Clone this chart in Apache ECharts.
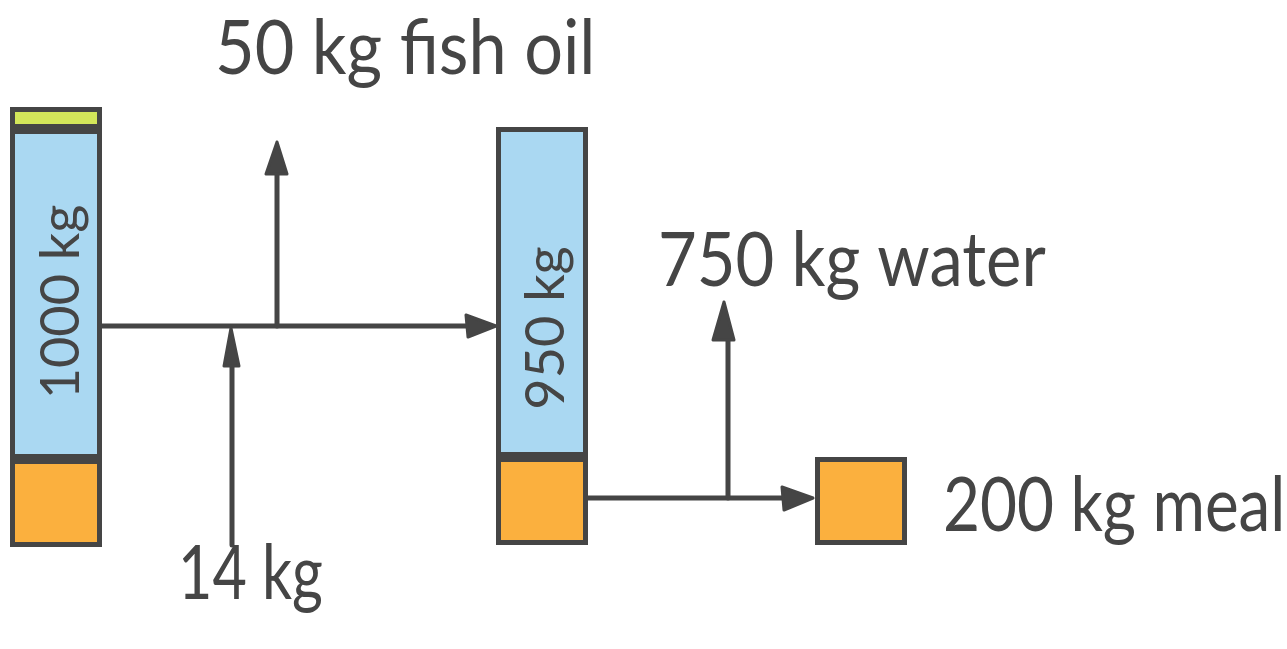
<!DOCTYPE html>
<html>
<head>
<meta charset="utf-8">
<title>fish meal mass balance</title>
<script src="https://cdn.jsdelivr.net/npm/echarts@6/dist/echarts.min.js"></script>
<style>
  html, body { margin: 0; padding: 0; background: #fff; }
  #chart { width: 1287px; height: 649px; }
</style>
</head>
<body>
<div id="chart"></div>
<script>
// stages of the process, each bar stacked solids / water / oil (kg)
const stages = ['raw fish', 'press cake', 'meal'];
const components = ['solids', 'water', 'fish oil'];
const rawFish = [200, 750, 50];
const pressCake = [200, 750, 0];
const meal = [200, 0, 0];
const totalLabels = ['1000 kg', '950 kg', ''];
const flowLabels = ['50 kg fish oil', '14 kg', '750 kg water', '200 kg meal'];

const stageData = [rawFish, pressCake, meal];
const colors = ['#fbb03e', '#aad8f2', '#d3e65a'];
const ink = '#454545';
const hand = 'Lato';

// one grid per bar, all on the same kg scale
const grids = [
  { left: 10, width: 92, top: 107, height: 440 },
  { left: 496, width: 92, top: 105, height: 440 },
  { left: 815, width: 92, top: 105, height: 440 }
];
// label nudges inside the bars (along text, across text)
const labelOffsets = [[-8, 6], [-36, 5]];

const xAxis = stages.map((s, i) => ({
  gridIndex: i, type: 'category', data: [s], show: false
}));
const yAxis = stages.map((s, i) => ({
  gridIndex: i, type: 'value', min: 0, max: 1000, show: false
}));

const series = [];
stageData.forEach((vals, i) => {
  vals.forEach((v, k) => {
    if (!v) return;
    const s = {
      name: components[k],
      type: 'bar',
      xAxisIndex: i,
      yAxisIndex: i,
      stack: 'stage' + i,
      barWidth: '100%',
      data: [v],
      itemStyle: { color: colors[k], borderColor: ink, borderWidth: 5 },
      silent: true
    };
    if (k === 1 && totalLabels[i]) {
      s.label = {
        show: true,
        position: 'inside',
        rotate: 90,
        formatter: totalLabels[i],
        fontFamily: hand,
        fontSize: 54,
        color: ink,
        offset: labelOffsets[i]
      };
    }
    series.push(s);
  });
});

function shaft(x1, y1, x2, y2) {
  return { type: 'line', shape: { x1, y1, x2, y2 }, style: { stroke: ink, lineWidth: 5, lineCap: 'round' } };
}
function head(points) {
  return { type: 'polygon', shape: { points }, style: { fill: ink, stroke: ink, lineWidth: 3, lineJoin: 'round' } };
}
function txt(text, x, y, size, sx) {
  return {
    type: 'text', x, y, scaleX: sx || 1,
    style: { text, fill: ink, fontFamily: hand, fontSize: size, fontWeight: 400, textVerticalAlign: 'bottom' }
  };
}

const graphic = [
  // raw fish -> press cake
  shaft(102, 326, 470, 326),
  head([[496, 326], [466, 315], [468, 337]]),
  // oil leaving upward
  shaft(277, 326, 277, 170),
  head([[277, 142], [266, 174], [287, 174]]),
  // 14 kg entering from below
  shaft(232, 545, 232, 360),
  head([[231, 328], [224, 366], [239, 366]]),
  // press cake -> meal
  shaft(588, 498, 790, 498),
  head([[813, 498], [782, 487], [784, 510]]),
  // water leaving upward
  shaft(728, 498, 728, 338),
  head([[724, 302], [713, 340], [734, 340]]),
  txt(flowLabels[0], 215, 87, 76, 0.9),
  txt(flowLabels[1], 178, 612, 76, 0.78),
  txt(flowLabels[2], 658, 299, 76, 0.88),
  txt(flowLabels[3], 943, 544, 76, 0.84)
];

const chart = echarts.init(document.getElementById('chart'));
chart.setOption({
  backgroundColor: '#ffffff',
  animation: false,
  grid: grids,
  xAxis,
  yAxis,
  series,
  graphic
});
</script>
</body>
</html>
